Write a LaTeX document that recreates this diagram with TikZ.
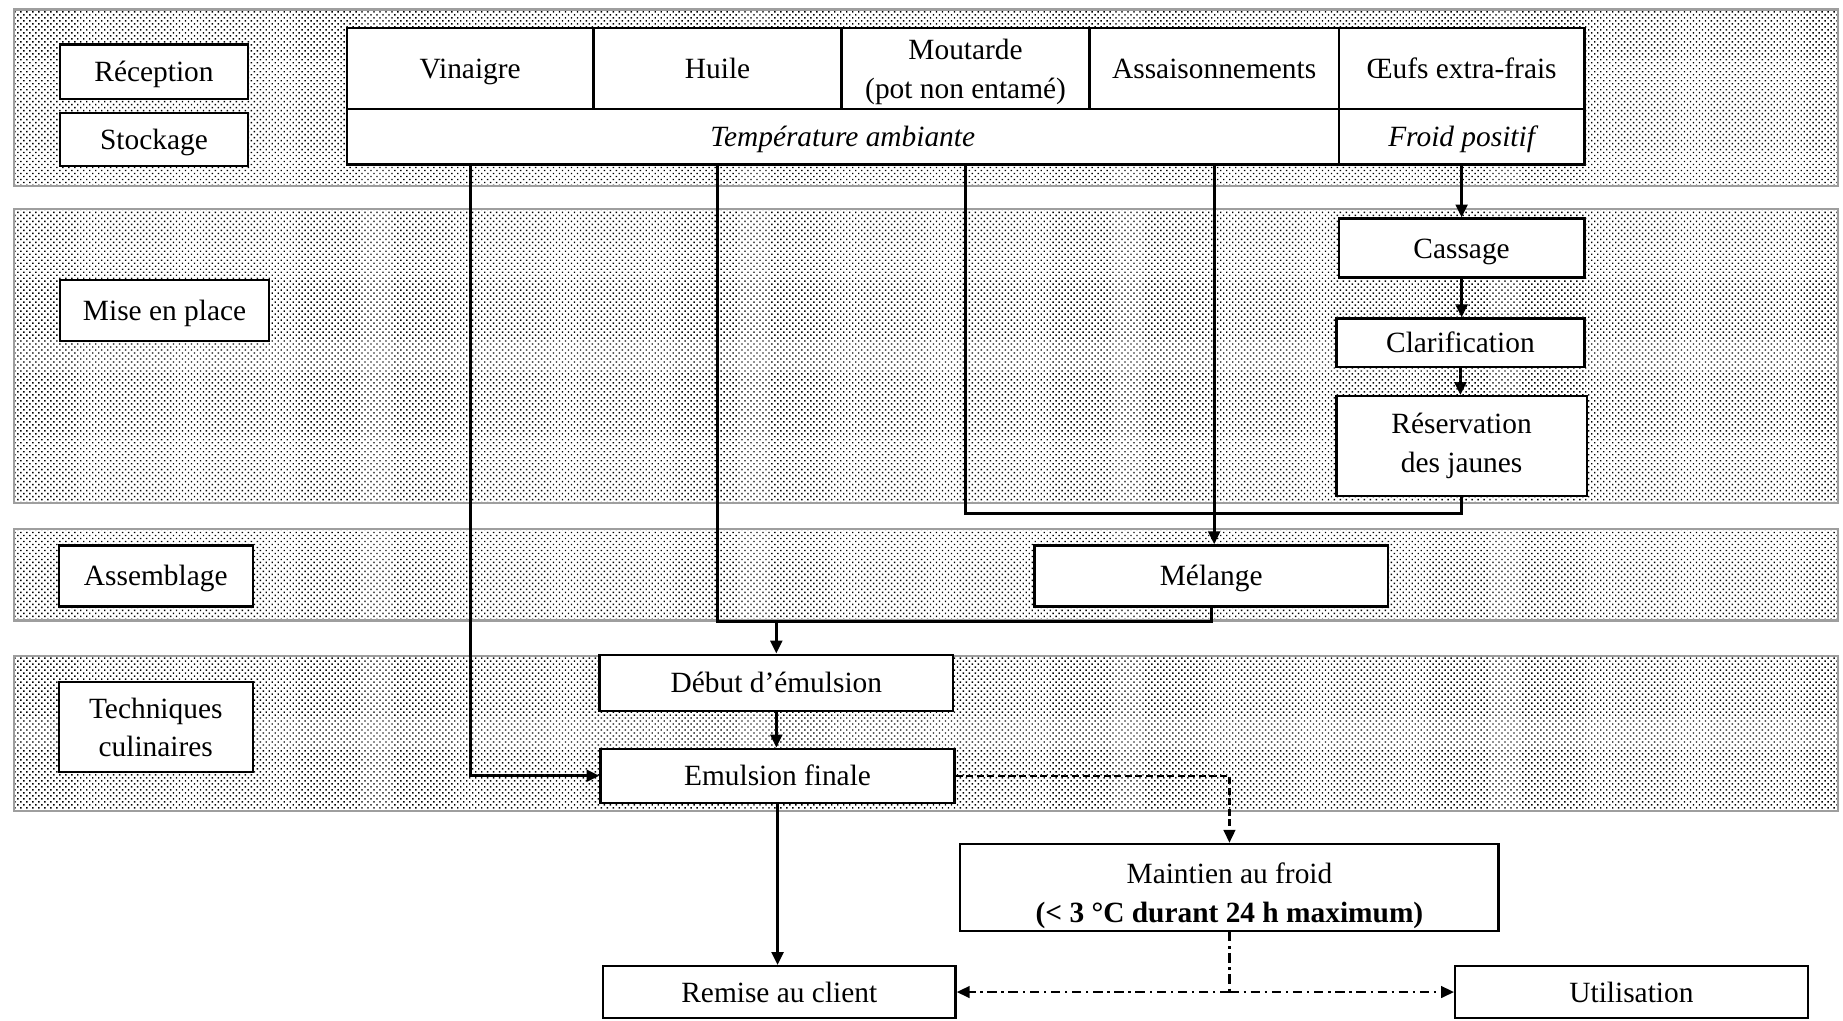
\documentclass[tikz,border=0pt]{standalone}
\usepackage{fontspec}
\setmainfont{Liberation Serif}
\usetikzlibrary{arrows.meta,patterns.meta}
\newcommand{\boxstrut}{\rule[-8pt]{0pt}{33pt}}
\begin{document}
\begin{tikzpicture}[x=1pt,y=-1pt,
  band/.style={draw=black!38, line width=2pt,
    pattern={Dots[radius=0.85pt,distance=3.6pt,angle=45]}},
  box/.style={draw, line width=2pt, fill=white, inner sep=0pt, align=center,
    font=\fontsize{25}{34}\selectfont,
    execute at begin node=\boxstrut, execute at end node=\boxstrut},
  txt/.style={inner sep=0pt, anchor=base, font=\fontsize{25}{34}\selectfont},
  link/.style={line width=2.4pt},
  arr/.style={line width=2.4pt, -{Triangle[length=11pt,width=10pt]}},
  dashlink/.style={line width=1.8pt, dash pattern=on 6pt off 3pt},
  dotlink/.style={line width=1.8pt, dash pattern=on 8pt off 4pt on 2pt off 4pt},
  tip/.style={-{Triangle[length=11pt,width=10pt]}},
]
\useasboundingbox (0,0) rectangle (1568,868);

% stage bands
\draw[band] (12,8) rectangle (1564,158);
\draw[band] (12,178) rectangle (1564,428);
\draw[band] (12,450) rectangle (1564,528);
\draw[band] (12,558) rectangle (1564,690);

% stage labels
\node[box, minimum width=160pt, minimum height=46pt] (rec) at (131,61) {Réception};
\node[box, minimum width=160pt, minimum height=45pt] (sto) at (131,118.5) {Stockage};
\node[box, minimum width=178pt, minimum height=52pt] (mep) at (140,264) {Mise en place};
\node[box, minimum width=165pt, minimum height=52pt] (asb) at (132.5,490) {Assemblage};
\node[box, minimum width=165pt, minimum height=77pt] (tec) at (132.5,618.5) {};
\node[txt] at ([yshift=-32pt]tec.north) {Techniques};
\node[txt] at ([yshift=-65pt]tec.north) {culinaires};

% ingredients table
\node[box, minimum width=210pt, minimum height=69pt] (vin) at (400,58.5) {Vinaigre};
\node[box, minimum width=211pt, minimum height=69pt] (hui) at (610.5,58.5) {Huile};
\node[box, minimum width=211pt, minimum height=69pt] (mou) at (821.5,58.5) {};
\node[txt] at ([yshift=-28pt]mou.north) {Moutarde};
\node[txt] at ([yshift=-61pt]mou.north) {(pot non entamé)};
\node[box, minimum width=212pt, minimum height=69pt] (asn) at (1033,58.5) {Assaisonnements};
\node[box, minimum width=209pt, minimum height=69pt] (oeu) at (1243.5,58.5) {Œufs extra-frais};
\node[box, minimum width=844pt, minimum height=47pt] (tamb) at (717,116.5) {\itshape Température ambiante};
\node[box, minimum width=209pt, minimum height=47pt] (fpos) at (1243.5,116.5) {\itshape Froid positif};

% process steps
\node[box, minimum width=209pt, minimum height=50pt] (cas) at (1243.5,211) {Cassage};
\node[box, minimum width=211pt, minimum height=41pt] (cla) at (1242.5,291.5) {Clarification};
\node[box, minimum width=213pt, minimum height=85pt] (res) at (1243.5,379.5) {};
\node[txt] at ([yshift=-32.5pt]res.north) {Réservation};
\node[txt] at ([yshift=-66pt]res.north) {des jaunes};
\node[box, minimum width=301pt, minimum height=52pt] (mel) at (1030.5,490) {Mélange};
\node[box, minimum width=301pt, minimum height=48pt] (deb) at (660.5,581) {Début d’émulsion};
\node[box, minimum width=301pt, minimum height=46pt] (emf) at (661.5,660) {Emulsion finale};
\node[box, minimum width=458pt, minimum height=74pt] (mai) at (1046,755) {};
\node[txt] at ([yshift=-35pt]mai.north) {Maintien au froid};
\node[txt] at ([yshift=-68pt]mai.north) {\bfseries (< 3 °C durant 24 h maximum)};
\node[box, minimum width=300pt, minimum height=44pt] (rem) at (663,844) {Remise au client};
\node[box, minimum width=300pt, minimum height=44pt] (uti) at (1388,844) {Utilisation};

% junction levels
\coordinate (yres) at (0,437);
\coordinate (ymel) at (0,529);

% egg line
\draw[arr] (fpos.south) -- (cas.north);
\draw[arr] (cas.south) -- (cas.south |- cla.north);
\draw[arr] (cla.south) -- (cla.south |- res.north);

% mustard and yolks join the seasoning line
\draw[link] (res.south) -- (res.south |- yres) -| (mou |- tamb.south);
\draw[arr] (asn |- tamb.south) -- (asn |- mel.north);

% oil and mix towards the emulsion
\draw[link] (mel.south) -- (mel.south |- ymel) -| (hui |- tamb.south);
\draw[arr] (deb.north |- ymel) -- (deb.north);
\draw[arr] (deb.south) -- (deb.south |- emf.north);

% vinegar added at the end
\draw[arr] (vin |- tamb.south) |- (emf.west);

% outcomes
\draw[arr] (emf.south) -- (emf.south |- rem.north);
\draw[dashlink, tip] (emf.east) -| (mai.north);
\coordinate (split) at (mai.south |- rem.east);
\draw[dotlink] (mai.south) -- (split);
\draw[dotlink, tip] (split) -- (rem.east);
\draw[dotlink, tip] (split) -- (uti.west);
\end{tikzpicture}
\end{document}
